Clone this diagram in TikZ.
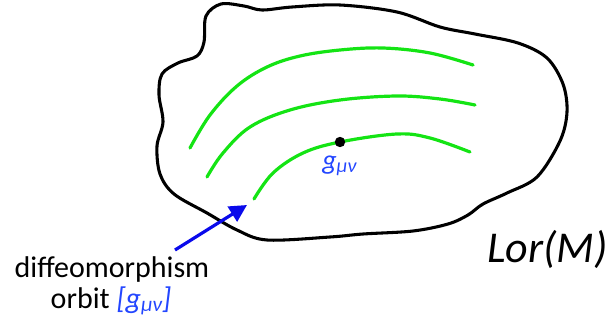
\documentclass[tikz,border=0pt]{standalone}
\usepackage{fontspec}
\setmainfont{Carlito}
\usetikzlibrary{arrows.meta}
\definecolor{orbitgreen}{RGB}{20,228,20}
\definecolor{arrowblue}{RGB}{10,10,235}
\definecolor{labelblue}{RGB}{35,70,255}
\tikzset{
  outline/.style={line width=2.3pt, black},
  orbit/.style={line width=2.4pt, orbitgreen, line cap=round},
  pointer/.style={line width=2.4pt, arrowblue, -{Triangle[length=13pt,width=13pt]}},
  lbl/.style={inner sep=0pt, anchor=base},
}
\begin{document}
\begin{tikzpicture}[x=0.75pt,y=-0.75pt]
\useasboundingbox (0,0) rectangle (611,325);
% blob
\draw[outline] plot[smooth cycle, tension=0.55] coordinates {
 (204,42) (206,16) (221,4) (244,6) (262,10) (292,7) (340,5) (397,12) (440,27)
 (475,34) (518,43) (547,58) (563,84) (567,112) (560,141) (537,177) (507,193)
 (483,204) (468,215) (448,224) (413,231) (363,234) (330,237) (267,240)
 (237,230) (207,213) (174,194) (160,174) (157,146) (163,122) (159,95)
 (162,74) (178,63) (197,56)};
% orbits
\draw[orbit] plot[smooth, tension=0.6] coordinates {(190,148) (210,115) (237,86) (267,67) (300,56) (340,50) (383,48) (430,53) (473,65)};
\draw[orbit] plot[smooth, tension=0.6] coordinates {(207,177) (223,153) (250,127) (290,110) (340,100) (397,96) (440,99) (475,105)};
\draw[orbit] plot[smooth, tension=0.6] coordinates {(254,199) (273,173) (303,153) (340,142) (397,134) (430,138) (470,152)};
% point
\fill[black] (340,142) circle[radius=5.2];
\node[lbl, anchor=base west, text=labelblue, font=\fontsize{21}{24}\selectfont\itshape] (gmn) at (322,169) {g\raisebox{-0.25ex}{\fontsize{15}{16}\selectfont μν}};
% arrow
\coordinate (arrstart) at (175,250);
\coordinate (arrend) at (247,205);
\draw[pointer] (arrstart) -- (arrend);
% texts
\node[lbl, font=\fontsize{22.5}{26}\selectfont] (diffeo) at (112,277) {diffeomorphism};
\node[lbl, font=\fontsize{22.5}{26}\selectfont] (orbitlbl) at (111,308) {orbit \textcolor{labelblue}{\itshape [g\raisebox{-0.25ex}{\fontsize{16}{17}\selectfont μν}]}};
\node[lbl, anchor=base west, font=\fontsize{33}{37}\selectfont\itshape] (lor) at (487,262) {Lor(M)};
\end{tikzpicture}
\end{document}
